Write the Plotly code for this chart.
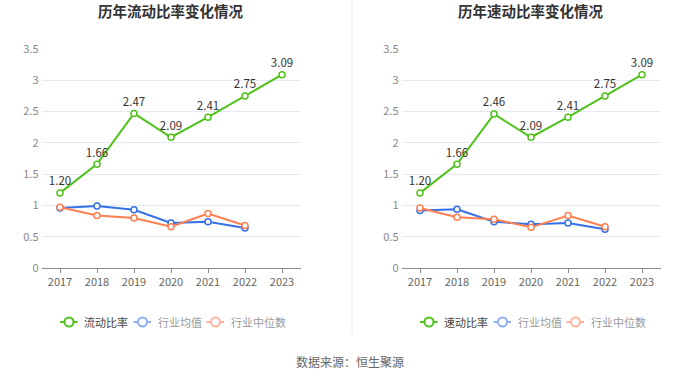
import plotly.graph_objects as go

years = ["2017", "2018", "2019", "2020", "2021", "2022", "2023"]
current_ratio = [1.20, 1.66, 2.47, 2.09, 2.41, 2.75, 3.09]
current_mean = [0.96, 0.99, 0.93, 0.72, 0.74, 0.64]
current_median = [0.97, 0.84, 0.80, 0.66, 0.87, 0.68]
quick_ratio = [1.20, 1.66, 2.46, 2.09, 2.41, 2.75, 3.09]
quick_mean = [0.92, 0.94, 0.74, 0.70, 0.72, 0.62]
quick_median = [0.96, 0.81, 0.78, 0.65, 0.84, 0.66]

titles = ["历年流动比率变化情况", "历年速动比率变化情况"]
main_names = ["流动比率", "速动比率"]
mean_name = "行业均值"
median_name = "行业中位数"
source_text = "数据来源：恒生聚源"

W, H = 700, 378
GREEN = "#4fc21b"
BLUE = "#3470e8"
ORANGE = "#ff7f50"
FONT = "Noto Sans CJK SC"

def px(x):
    return x / W

def py(y):
    return 1 - y / H

fig = go.Figure()

panels = [
    (current_ratio, current_mean, current_median, "x", "y"),
    (quick_ratio, quick_mean, quick_median, "x2", "y2"),
]

for ratio, mean, median, xa, ya in panels:
    fig.add_trace(go.Scatter(
        x=years[:len(mean)], y=mean, xaxis=xa, yaxis=ya, mode="lines+markers",
        line=dict(color=BLUE, width=2),
        marker=dict(symbol="circle", size=6, color="white", line=dict(color=BLUE, width=1.5)),
        showlegend=False, hoverinfo="skip"))
    fig.add_trace(go.Scatter(
        x=years[:len(median)], y=median, xaxis=xa, yaxis=ya, mode="lines+markers",
        line=dict(color=ORANGE, width=2),
        marker=dict(symbol="circle", size=6, color="white", line=dict(color=ORANGE, width=1.5)),
        showlegend=False, hoverinfo="skip"))
    fig.add_trace(go.Scatter(
        x=years, y=ratio, xaxis=xa, yaxis=ya, mode="lines+markers+text",
        text=[f"{v:.2f}" for v in ratio], textposition="top center",
        textfont=dict(size=11.5, color="#333", family=FONT),
        line=dict(color=GREEN, width=2),
        marker=dict(symbol="circle", size=6, color="white", line=dict(color=GREEN, width=1.5)),
        showlegend=False, hoverinfo="skip"))

xcommon = dict(type="category", range=[-0.5, 6.5], showgrid=False, showline=True,
               linecolor="#8c8c8c", linewidth=1, ticks="outside", ticklen=4,
               tickcolor="#8c8c8c", tickfont=dict(size=11, color="#666", family=FONT),
               fixedrange=True, automargin=False)
ycommon = dict(range=[0, 3.5], dtick=0.5, tick0=0, showgrid=True, gridcolor="#e6e9f2",
               gridwidth=1, zeroline=False, showline=False, ticks="", ticklabelstandoff=2,
               tickfont=dict(size=11, color="#888", family=FONT), fixedrange=True,
               automargin=False)

ydom = [py(268), py(49)]
fig.update_layout(
    width=W, height=H,
    margin=dict(l=0, r=0, t=0, b=0, autoexpand=False),
    paper_bgcolor="white", plot_bgcolor="white",
    font=dict(family=FONT),
    xaxis=dict(domain=[px(41.5), px(300.5)], anchor="y", **xcommon),
    yaxis=dict(domain=ydom, anchor="x", **ycommon),
    xaxis2=dict(domain=[px(401.5), px(660.5)], anchor="y2", **xcommon),
    yaxis2=dict(domain=ydom, anchor="x2", **ycommon),
    showlegend=False,
)

shapes = []
annotations = []

# separator
shapes.append(dict(type="line", xref="paper", yref="paper", x0=px(352), x1=px(352),
                   y0=py(0), y1=py(335), line=dict(color="#eeeeee", width=1)))

for i, (title, mname) in enumerate(zip(titles, main_names)):
    dx = 360 * i
    annotations.append(dict(text=f"<b>{title}</b>", x=px(170 + dx), y=py(11), xref="paper",
                            yref="paper", xanchor="center", yanchor="middle", showarrow=False,
                            font=dict(size=14.5, color="#333", family=FONT)))
    items = [
        (mname, GREEN, "#444", 60, 82),
        (mean_name, "#8fadf2", "#999", 133.5, 156),
        (median_name, "#ffb49a", "#999", 206.5, 229),
    ]
    ly = 322
    for name, col, tcol, lx0, tx in items:
        lx0 += dx
        tx += dx
        shapes.append(dict(type="line", xref="paper", yref="paper", x0=px(lx0), x1=px(lx0 + 17.5),
                           y0=py(ly), y1=py(ly), line=dict(color=col, width=2)))
        shapes.append(dict(type="circle", xref="paper", yref="paper", xsizemode="pixel",
                           ysizemode="pixel", xanchor=px(lx0 + 9), yanchor=py(ly),
                           x0=-4.5, x1=4.5, y0=-4.5, y1=4.5, fillcolor="white",
                           line=dict(color=col, width=2)))
        annotations.append(dict(text=name, x=px(tx), y=py(ly), xref="paper", yref="paper",
                                xanchor="left", yanchor="middle", showarrow=False,
                                font=dict(size=11, color=tcol, family=FONT)))

annotations.append(dict(text=source_text, x=0.5, y=py(361), xref="paper", yref="paper",
                        xanchor="center", yanchor="middle", showarrow=False,
                        font=dict(size=12, color="#666", family=FONT)))

fig.update_layout(shapes=shapes, annotations=annotations)

fig.write_html("out.html",
               post_script="document.body.style.margin='0';document.body.style.overflow='hidden';",
               config={"displayModeBar": False})
